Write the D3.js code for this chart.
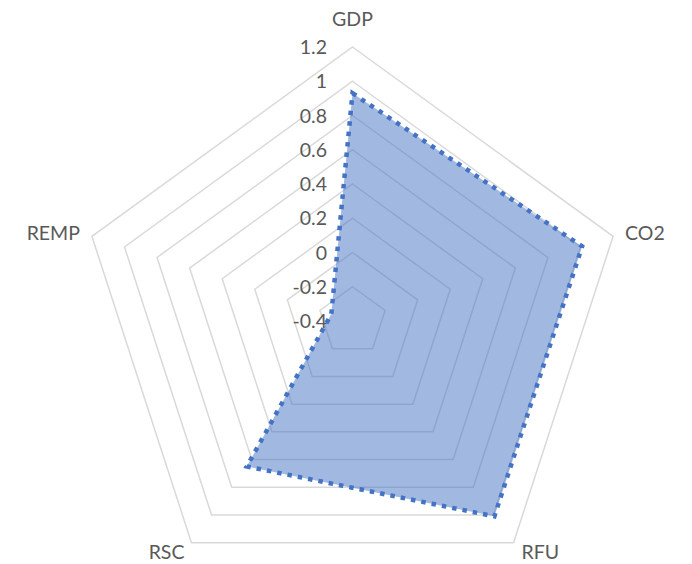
<!DOCTYPE html>
<html>
<head>
<meta charset="utf-8">
<script src="https://cdn.jsdelivr.net/npm/d3@7/dist/d3.min.js"></script>
<style>
  html, body { margin: 0; padding: 0; background: #fff; }
  svg { display: block; }
  text { font-family: Lato, "Open Sans", sans-serif; fill: #595959; }
</style>
</head>
<body>
<svg id="chart" width="692" height="564"></svg>
<script>
// Radar chart data
const categories = ["GDP", "CO2", "RFU", "RSC", "REMP"];
const seriesValues = [0.93, 1.01, 1.01, 0.65, -0.27];
const tickValues = [-0.4, -0.2, 0, 0.2, 0.4, 0.6, 0.8, 1, 1.2];
const tickLabels = ["-0.4", "-0.2", "0", "0.2", "0.4", "0.6", "0.8", "1", "1.2"];

const width = 692, height = 564;
const cx = 352.5, cy = 321, outerR = 274;
const fontSize = 19.5;

const svg = d3.select("#chart");
const g = svg.append("g").attr("transform", `translate(${cx},${cy})`);

const r = d3.scaleLinear().domain([-0.4, 1.2]).range([0, outerR]);
const angle = d3.scalePoint().domain(categories).range([0, 2 * Math.PI * (categories.length - 1) / categories.length]);

// polar -> cartesian with angle 0 at 12 o'clock, clockwise
const px = (a, rad) => rad * Math.sin(a);
const py = (a, rad) => -rad * Math.cos(a);

// Concentric pentagon gridlines
const ringLine = d3.lineRadial()
  .angle(d => angle(d.cat))
  .radius(d => r(d.v))
  .curve(d3.curveLinearClosed);

g.append("g").attr("class", "grid")
  .selectAll("path")
  .data(tickValues.filter(v => v > -0.4))
  .join("path")
  .attr("d", v => ringLine(categories.map(c => ({ cat: c, v }))))
  .attr("fill", "none")
  .attr("stroke", "#d9d9d9")
  .attr("stroke-width", 1.5);

// Series area
const seriesPts = categories.map((c, i) => ({ cat: c, v: seriesValues[i] }));

g.append("path")
  .attr("d", ringLine(seriesPts))
  .attr("fill", "#4472c4")
  .attr("fill-opacity", 0.5)
  .attr("stroke", "none");

g.append("path")
  .attr("d", ringLine(seriesPts))
  .attr("fill", "none")
  .attr("stroke", "#4472c4")
  .attr("stroke-width", 4.5)
  .attr("stroke-dasharray", "4.5 6")
  .attr("stroke-linejoin", "miter");

// Value axis labels along the GDP spoke
g.append("g").attr("class", "ticks")
  .selectAll("text")
  .data(tickValues)
  .join("text")
  .attr("x", -25.5)
  .attr("y", v => -r(v))
  .attr("dy", "0.36em")
  .attr("text-anchor", "end")
  .attr("font-size", fontSize)
  .text((v, i) => tickLabels[i]);

// Category labels around the outer ring
const labelPlacement = {
  GDP:  { dx: 0,   dy: -21, anchor: "middle", base: "auto" },
  CO2:  { dx: 12,  dy: -4,  anchor: "start",  base: "central" },
  RFU:  { dx: 8,   dy: 9,   anchor: "start",  base: "central" },
  RSC:  { dx: -7,  dy: 9,   anchor: "end",    base: "central" },
  REMP: { dx: -12, dy: -4,  anchor: "end",    base: "central" }
};

g.append("g").attr("class", "cats")
  .selectAll("text")
  .data(categories)
  .join("text")
  .attr("x", c => px(angle(c), r(1.2)) + labelPlacement[c].dx)
  .attr("y", c => py(angle(c), r(1.2)) + labelPlacement[c].dy)
  .attr("text-anchor", c => labelPlacement[c].anchor)
  .attr("dominant-baseline", c => labelPlacement[c].base)
  .attr("font-size", fontSize)
  .text(c => c);
</script>
</body>
</html>
